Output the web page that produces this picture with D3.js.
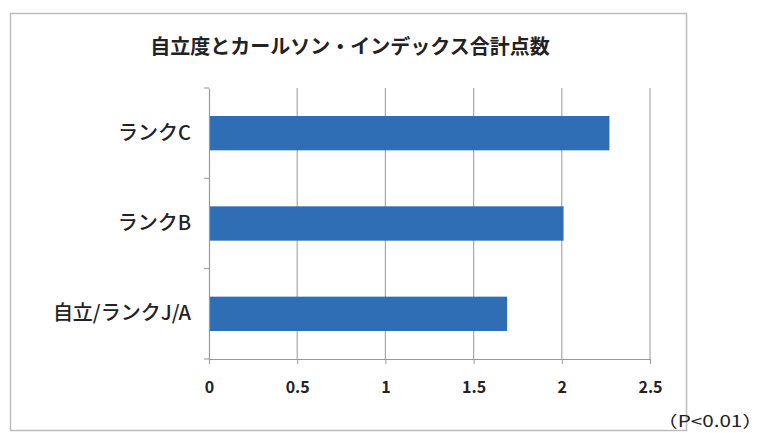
<!DOCTYPE html>
<html>
<head>
<meta charset="utf-8">
<script src="https://cdn.jsdelivr.net/npm/d3@7"></script>
<style>
  body { margin: 0; background: #fff; }
  text { font-family: "Noto Sans CJK JP", "Noto Sans", sans-serif; fill: #222; }
</style>
</head>
<body>
<svg id="chart"></svg>
<script>
const categories = ['ランクC', 'ランクB', '自立/ランクJ/A'];
const values = [2.27, 2.01, 1.69];
const xTicks = [0, 0.5, 1, 1.5, 2, 2.5];

const W = 768, H = 433;
const margin = { top: 88, right: 118, bottom: 74, left: 209 };
const width = W - margin.left - margin.right;
const height = H - margin.top - margin.bottom;

const svg = d3.select('#chart').attr('width', W).attr('height', H);

// outer chart frame
svg.append('rect')
  .attr('x', 10.5).attr('y', 13.5)
  .attr('width', 676).attr('height', 417)
  .attr('fill', 'none').attr('stroke', '#bdbdbd').attr('stroke-width', 1.5);

svg.append('text')
  .attr('x', 350).attr('y', 54)
  .attr('text-anchor', 'middle')
  .attr('font-size', 20).attr('font-weight', 'bold')
  .attr('fill', '#333')
  .text('自立度とカールソン・インデックス合計点数');

const g = svg.append('g').attr('transform', `translate(${margin.left},${margin.top})`);

const x = d3.scaleLinear().domain([0, 2.5]).range([0, width]);
const y = d3.scaleBand().domain(categories).range([0, height]).paddingInner(0.62).paddingOuter(0.31);

// gridlines
g.selectAll('line.grid').data(xTicks.slice(1)).enter().append('line')
  .attr('class', 'grid')
  .attr('x1', d => x(d)).attr('x2', d => x(d))
  .attr('y1', 0).attr('y2', height)
  .attr('stroke', '#a8a8a8').attr('stroke-width', 1.2);

g.selectAll('rect.bar').data(values).enter().append('rect')
  .attr('class', 'bar')
  .attr('x', 0)
  .attr('y', (d, i) => y(categories[i]))
  .attr('width', d => x(d))
  .attr('height', y.bandwidth())
  .attr('fill', '#2f6db5');

// x axis
const xAxis = g.append('g').attr('transform', `translate(0,${height})`)
  .call(d3.axisBottom(x).tickValues(xTicks).tickSize(5).tickSizeOuter(0).tickPadding(18)
    .tickFormat(d3.format('')));
xAxis.select('.domain').attr('stroke', '#999').attr('stroke-width', 1.2);
xAxis.selectAll('.tick line').attr('stroke', '#999');
xAxis.selectAll('.tick text').attr('font-size', 16).attr('font-weight', 'bold')
  .attr('font-family', 'Liberation Sans, Arial, sans-serif').attr('fill', '#333');

// y axis with ticks at category boundaries
const yAxis = g.append('g')
  .call(d3.axisLeft(y).tickSize(0).tickPadding(18));
yAxis.select('.domain').attr('stroke', '#999').attr('stroke-width', 1.2);
yAxis.selectAll('.tick text').attr('font-size', 20).attr('font-weight', 500).attr('fill', '#333');
const step = y.step();
g.selectAll('line.ytick').data(d3.range(4)).enter().append('line')
  .attr('class', 'ytick')
  .attr('x1', -5).attr('x2', 0)
  .attr('y1', i => i * step).attr('y2', i => i * step)
  .attr('stroke', '#999');

svg.append('text')
  .attr('x', 657).attr('y', 427)
  .attr('font-size', 16)
  .attr('fill', '#333')
  .attr('textLength', 106).attr('lengthAdjust', 'spacingAndGlyphs')
  .text('（P<0.01）');
</script>
</body>
</html>
